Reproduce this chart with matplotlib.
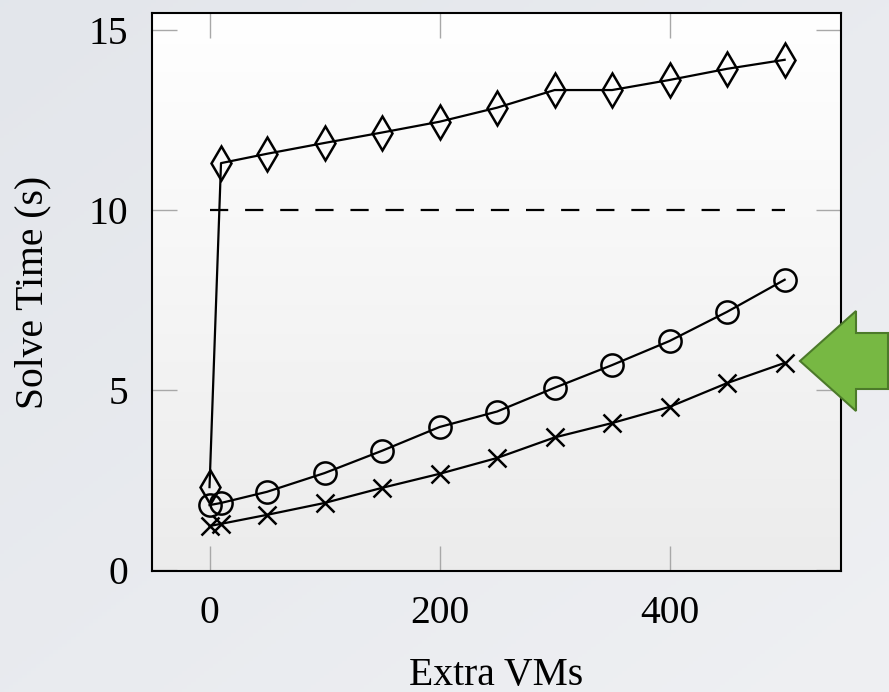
import numpy as np
import matplotlib
matplotlib.use('Agg')
import matplotlib.pyplot as plt
from matplotlib.patches import Polygon

# fonts and sizes
plt.rcParams['font.family'] = ['Liberation Serif', 'DejaVu Serif']
plt.rcParams['font.size'] = 28.5
plt.rcParams['axes.linewidth'] = 1.5

# data
extra_vms = [0, 10, 50, 100, 150, 200, 250, 300, 350, 400, 450, 500]
diamond_times = [2.3, 11.3, 11.56, 11.86, 12.15, 12.45, 12.84, 13.33, 13.33,
                 13.61, 13.92, 14.17]
circle_times = [1.8, 1.86, 2.17, 2.69, 3.31, 3.97, 4.4, 5.06, 5.69, 6.36,
                7.17, 8.06]
cross_times = [1.22, 1.28, 1.53, 1.86, 2.28, 2.67, 3.11, 3.68, 4.08, 4.53,
               5.19, 5.75]
threshold = 10
x_ticks = [0, 200, 400]
y_ticks = [0, 5, 10, 15]

fig = plt.figure(figsize=(8.89, 6.92), dpi=100)

# slide-like background gradient
bg = fig.add_axes([0, 0, 1, 1], zorder=-10)
bg.axis('off')
gy, gx = np.mgrid[0:1:200j, 0:1:200j]
shade = 0.5 * gx + 0.5 * gy
c0 = np.array([0.890, 0.902, 0.922])
c1 = np.array([0.937, 0.941, 0.953])
bg.imshow(c0 + shade[..., None] * (c1 - c0), extent=[0, 1, 0, 1],
          aspect='auto', origin='upper')

ax = fig.add_axes([152 / 889, 1 - 571 / 692, 689 / 889, 558 / 692])
ax.set_facecolor('none')

# axes face gradient (white at top to light grey at bottom)
t = np.linspace(0, 1, 200)[:, None]
top = np.array([1.0, 1.0, 1.0])
bot = np.array([0.925, 0.925, 0.925])
grad = top + t[..., None] * (bot - top)
ax.imshow(np.repeat(grad, 2, axis=1), extent=[0, 1, 0, 1], aspect='auto',
          transform=ax.transAxes, zorder=-5)

lw = 1.6
ax.plot([extra_vms[0], extra_vms[-1]], [threshold, threshold], color='black',
        lw=lw, dashes=(8.2, 7.6))
ax.plot(extra_vms, diamond_times, color='black', lw=lw, marker='d',
        markersize=17, mfc='none', mew=1.8)
ax.plot(extra_vms, circle_times, color='black', lw=lw, marker='o',
        markersize=16, mfc='none', mew=1.8)
ax.plot(extra_vms, cross_times, color='black', lw=lw, marker='x',
        markersize=13, mew=1.8)

ax.set_xlim(-50, 549)
ax.set_ylim(-0.03, 15.47)
ax.set_xticks(x_ticks)
ax.set_yticks(y_ticks)
ax.tick_params(direction='in', length=18, width=1, color='#a8a8a8',
               top=True, right=True, pad=17)
ax.set_xlabel('Extra VMs', labelpad=18)
ax.set_ylabel('Solve Time (s)', labelpad=27)

# green block arrow pointing at the lowest curve
pts = [(800, 361), (856, 311), (856, 333), (888, 333), (888, 389),
       (856, 389), (856, 411)]
arrow = Polygon([(x / 889, 1 - y / 692) for x, y in pts], closed=True,
                transform=fig.transFigure, facecolor='#77b843',
                edgecolor='#4c7a2a', lw=1.5, zorder=20)
fig.patches.append(arrow)

fig.savefig('out.png', dpi=100)
